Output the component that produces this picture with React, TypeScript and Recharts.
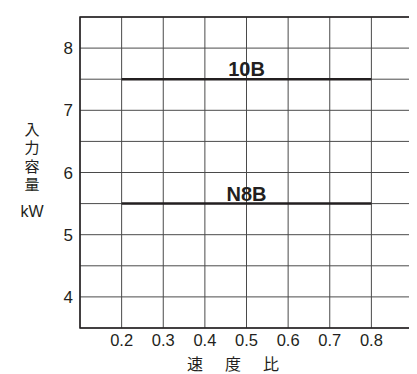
import React from "react";
import { LineChart, Line, XAxis, YAxis, CartesianGrid, ReferenceArea, ReferenceDot, Label } from "recharts";

const xTicks = [0.1, 0.2, 0.3, 0.4, 0.5, 0.6, 0.7, 0.8, 0.9];
const xLabelTicks = [0.2, 0.3, 0.4, 0.5, 0.6, 0.7, 0.8];
const yTicks = [3.5, 4, 4.5, 5, 5.5, 6, 6.5, 7, 7.5, 8, 8.5];
const yLabelTicks = [4, 5, 6, 7, 8];
const series10B = [{ x: 0.2, y: 7.5 }, { x: 0.8, y: 7.5 }];
const seriesN8B = [{ x: 0.2, y: 5.5 }, { x: 0.8, y: 5.5 }];
const seriesNames = ["10B", "N8B"];
const yAxisTitle = ["入", "力", "容", "量"];
const yUnit = "kW";
const xAxisTitle = ["速", "度", "比"];

const FONT = "'Liberation Sans', Arial, sans-serif";
const CJK = "'Noto Sans CJK JP', sans-serif";
const INK = "#231f20";

const fmtX = (v: number) => (xLabelTicks.some((t) => Math.abs(t - v) < 1e-9) ? v.toFixed(1) : "");
const fmtY = (v: number) => (yLabelTicks.includes(v) ? String(v) : "");

const YTitle = (props: any) => {
  const vb = props.viewBox || {};
  const x = 24;
  const top = vb.y + 111;
  return (
    <g>
      {yAxisTitle.map((c, i) => (
        <text key={c} x={x} y={top + i * 18.5} textAnchor="middle" fontSize={15} fill={INK} fontFamily={CJK} dominantBaseline="central">
          {c}
        </text>
      ))}
      <text x={x} y={top + 83} textAnchor="middle" fontSize={16} fill={INK} fontFamily={FONT} dominantBaseline="central">
        {yUnit}
      </text>
    </g>
  );
};

const XTitle = (props: any) => {
  const vb = props.viewBox || {};
  return (
    <g>
      {xAxisTitle.map((c, i) => (
        <text key={c} x={187 + i * 38} y={vb.y + 35} textAnchor="middle" fontSize={16} fill={INK} fontFamily={CJK} dominantBaseline="central">
          {c}
        </text>
      ))}
    </g>
  );
};

export default function App() {
  return (
    <LineChart width={409} height={366} margin={{ top: 9, right: 4, left: 0, bottom: 0 }}>
      <CartesianGrid stroke="#4a4a4a" strokeWidth={1} />
      <XAxis
        type="number"
        dataKey="x"
        domain={[0.1, 0.9]}
        ticks={xTicks}
        tickFormatter={fmtX}
        height={46}
        tickLine={false}
        axisLine={false}
        tickSize={0}
        tickMargin={6}
        tick={{ fill: INK, fontSize: 16.5, fontFamily: FONT }}
        allowDataOverflow
      >
        <Label content={XTitle} />
      </XAxis>
      <YAxis
        type="number"
        dataKey="y"
        domain={[3.5, 8.5]}
        ticks={yTicks}
        tickFormatter={fmtY}
        width={72}
        tickLine={false}
        axisLine={false}
        tickSize={0}
        tickMargin={7}
        tick={{ fill: INK, fontSize: 17, fontFamily: FONT }}
        allowDataOverflow
      >
        <Label content={YTitle} />
      </YAxis>
      <ReferenceArea x1={0.1} x2={0.9} y1={3.5} y2={8.5} fill="none" stroke={INK} strokeWidth={1.5} />
      <Line data={series10B} dataKey="y" stroke={INK} strokeWidth={2.5} dot={false} isAnimationActive={false} />
      <Line data={seriesN8B} dataKey="y" stroke={INK} strokeWidth={2.5} dot={false} isAnimationActive={false} />
      <ReferenceDot x={0.5} y={7.5} r={0} fill="none" stroke="none">
        <Label value={seriesNames[0]} position="top" offset={3} fill={INK} fontSize={20} fontWeight="bold" fontFamily={FONT} />
      </ReferenceDot>
      <ReferenceDot x={0.5} y={5.5} r={0} fill="none" stroke="none">
        <Label value={seriesNames[1]} position="top" offset={3} fill={INK} fontSize={20} fontWeight="bold" fontFamily={FONT} />
      </ReferenceDot>
    </LineChart>
  );
}
